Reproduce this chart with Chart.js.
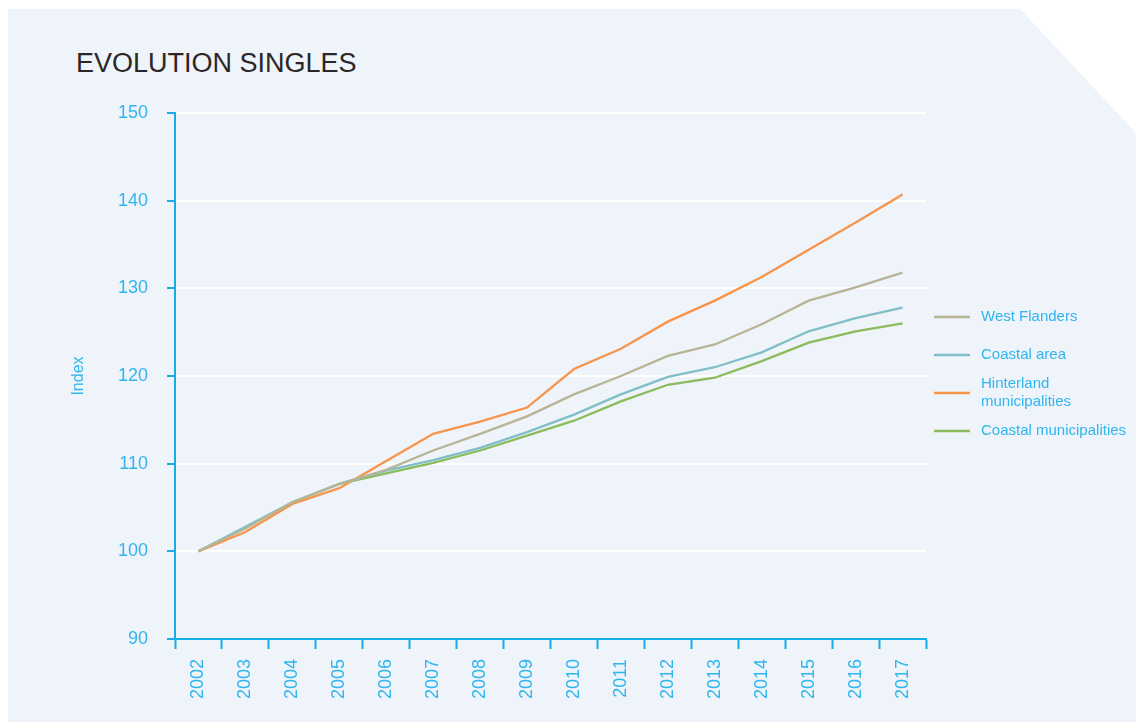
<!DOCTYPE html>
<html>
<head>
<meta charset="utf-8">
<script src="https://cdn.jsdelivr.net/npm/chart.js@4.4.1/dist/chart.umd.min.js"></script>
<style>
  html, body { margin: 0; padding: 0; background: #ffffff; }
  #wrap { position: relative; width: 1136px; height: 722px; overflow: hidden; }
  #panel { position: absolute; left: 0; top: 0; width: 1136px; height: 722px; background: #eff3fa;
    clip-path: polygon(8px 9px, 1020px 9px, 1136px 133px, 1136px 722px, 8px 722px); }
  #title { position: absolute; left: 76px; top: 49px; font-family: "Liberation Sans", Arial, sans-serif;
    font-size: 27px; line-height: 28px; color: #2a2728; letter-spacing: 0px; }
  #chart { position: absolute; left: 0; top: 0; }
</style>
</head>
<body>
<div id="wrap">
  <div id="panel"></div>
  <div id="title">EVOLUTION SINGLES</div>
  <canvas id="chart" width="1136" height="722"></canvas>
</div>
<script>
const years = ['2002','2003','2004','2005','2006','2007','2008','2009','2010','2011','2012','2013','2014','2015','2016','2017'];
const westFlanders   = [100, 102.6, 105.6, 107.7, 109.3, 111.5, 113.4, 115.4, 117.9, 120.0, 122.3, 123.6, 125.9, 128.6, 130.1, 131.8];
const coastalArea    = [100, 102.8, 105.6, 107.7, 109.2, 110.4, 111.8, 113.6, 115.6, 117.9, 119.9, 121.0, 122.7, 125.1, 126.6, 127.8];
const hinterland     = [100, 102.2, 105.4, 107.2, 110.3, 113.4, 114.8, 116.4, 120.8, 123.1, 126.2, 128.6, 131.3, 134.4, 137.5, 140.7];
const coastalMunic   = [100, 102.7, 105.6, 107.7, 108.9, 110.1, 111.5, 113.2, 114.9, 117.1, 119.0, 119.8, 121.7, 123.8, 125.1, 126.0];
const seriesNames = ['West Flanders', 'Coastal area', 'Hinterland municipalities', 'Coastal municipalities'];
const yTicks = [90, 100, 110, 120, 130, 140, 150];

const AXIS = '#15ade8';
const TXT = '#2fb6ee';
const FONT = '"Liberation Sans", Arial, sans-serif';

const legendPlugin = {
  id: 'sideLegend',
  afterDraw(chart) {
    const ctx = chart.ctx;
    const ca = chart.chartArea;
    const x0 = ca.right + 8, x1 = ca.right + 44, tx = ca.right + 55;
    const maxW = 1136 - tx - 2;
    const rowYs = [317, 355, 393, 431];
    ctx.save();
    ctx.font = '15px ' + FONT;
    ctx.textBaseline = 'middle';
    ctx.textAlign = 'left';
    chart.data.datasets.forEach((ds, i) => {
      const y = rowYs[i];
      ctx.strokeStyle = ds.borderColor;
      ctx.lineWidth = 2.5;
      ctx.beginPath(); ctx.moveTo(x0, y); ctx.lineTo(x1, y); ctx.stroke();
      const words = ds.label.split(' ');
      const lines = [];
      let cur = '';
      words.forEach(w => {
        const t = cur ? cur + ' ' + w : w;
        if (ctx.measureText(t).width > maxW && cur) { lines.push(cur); cur = w; } else { cur = t; }
      });
      lines.push(cur);
      const lh = 18;
      const startY = y - (lines.length - 1) * lh / 2;
      ctx.fillStyle = TXT;
      lines.forEach((l, k) => ctx.fillText(l, tx, startY + k * lh));
    });
    ctx.restore();
  }
};

const mk = (label, data, color) => ({
  label, data, borderColor: color, backgroundColor: color,
  borderWidth: 2.3, pointRadius: 0, tension: 0, fill: false
});

new Chart(document.getElementById('chart'), {
  type: 'line',
  data: {
    labels: years,
    datasets: [
      mk(seriesNames[0], westFlanders, '#b8b596'),
      mk(seriesNames[1], coastalArea, '#80bfc7'),
      mk(seriesNames[2], hinterland, '#f8944a'),
      mk(seriesNames[3], coastalMunic, '#8bbb5a')
    ]
  },
  options: {
    responsive: false,
    animation: false,
    layout: { padding: { left: 66, right: 210, top: 113, bottom: 0 } },
    plugins: { legend: { display: false }, title: { display: false }, tooltip: { enabled: false } },
    scales: {
      x: {
        offset: true,
        grid: { display: true, drawOnChartArea: false, drawTicks: true, tickLength: 10, tickColor: AXIS, tickWidth: 2, offset: true },
        border: { display: true, color: AXIS, width: 2 },
        ticks: { color: TXT, font: { family: FONT, size: 18 }, minRotation: 90, maxRotation: 90, padding: 10, autoSkip: false },
        afterFit(scale) { scale.height = 83; }
      },
      y: {
        min: 90, max: 150,
        afterBuildTicks(scale) { scale.ticks = yTicks.map(v => ({ value: v })); },
        grid: { color: '#ffffff', lineWidth: 2, drawTicks: true, tickLength: 8, tickColor: AXIS, tickWidth: 2 },
        border: { display: true, color: AXIS, width: 2 },
        ticks: { color: TXT, font: { family: FONT, size: 18 }, padding: 19 },
        title: { display: true, text: 'Index', color: TXT, font: { family: FONT, size: 16 }, padding: { top: 3, bottom: 0 } },
        afterFit(scale) { scale.width = 109; }
      }
    }
  },
  plugins: [legendPlugin]
});
</script>
</body>
</html>
